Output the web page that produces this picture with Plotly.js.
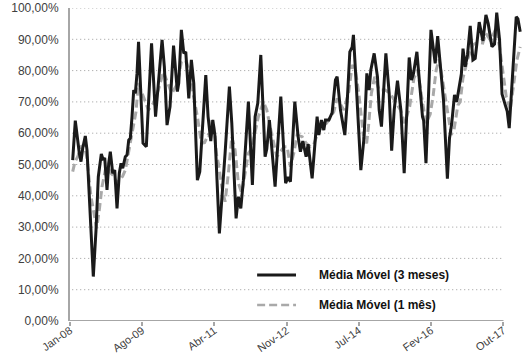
<!DOCTYPE html>
<html>
<head>
<meta charset="utf-8">
<script src="https://cdn.plot.ly/plotly-3.0.1.min.js"></script>
<style>
html,body{margin:0;padding:0;background:#fff;}
#chart{width:529px;height:353px;}
</style>
</head>
<body>
<div id="chart"></div>
<script>
// x = months elapsed since Jan-08 (fractional), y = percent
const blackMonth = [0.73,1.43,2.51,2.97,3.43,4.13,4.59,6.29,7.02,7.64,8.45,8.99,9.37,9.99,10.45,10.88,11.53,12.07,12.69,13.31,13.77,14.23,14.93,15.39,15.85,16.28,16.74,17.2,17.63,18.09,18.5,19.71,20.6,22.01,23.09,23.76,24.85,25.47,26.19,27.0,27.95,28.98,29.35,30.06,30.71,31.25,32.06,32.76,33.41,34.38,35.03,36.65,37.27,38.0,38.54,39.16,40.32,41.86,43.02,43.67,44.83,45.45,46.1,46.8,48.15,49.23,49.96,50.69,51.5,52.2,52.66,53.12,53.82,55.36,56.9,57.93,58.2,58.87,59.49,60.68,61.57,62.19,62.84,63.73,64.27,65.35,66.24,66.7,67.16,67.86,68.51,68.94,69.86,70.75,71.65,72.1,73.0,74.18,74.8,75.53,76.15,76.5,77.15,78.5,79.39,80.12,80.74,81.2,82.1,82.99,83.45,84.07,85.26,86.15,86.82,87.5,88.39,89.31,90.2,90.93,91.55,92.17,92.71,93.63,94.38,95.14,95.46,96.08,97.43,98.57,99.24,100.05,100.81,101.86,102.43,103.02,103.78,104.37,105.19,105.64,106.08,106.67,107.29,108.02,108.75,109.37,109.86,110.45,111.45,112.26,112.88,113.88,114.58,115.18,115.93,116.61,117.53,118.01,118.55,119.28,119.9,120.44,120.9,121.52];
const blackValue = [51.4,64.0,53.6,50.9,55.2,59.1,54.6,14.2,29,46.1,53.4,51.4,52.1,41.9,50.4,54.1,47.2,48.2,36,47.2,50.4,48.8,52.5,53,57.8,58.4,65.3,73.8,72.7,79.1,89.2,56.8,55.7,88.7,65.3,74.9,89.8,81.2,62.6,68.5,88,73.3,76,93.0,85.5,86,71.1,83.4,75.9,45,47.7,78.6,65.3,57.5,64.2,58.9,28.0,53.6,74.9,63.2,32.8,39.7,36.0,45,70.1,43.5,65.3,69.6,85.0,65.3,52.5,55,64.2,42.9,71.7,49.3,44.0,46,44.5,70.1,58.9,54.1,57.5,52.5,56.5,45.6,57.5,65.3,59.4,64.2,61,64.2,64.2,66.5,77.0,78.1,67.4,59.4,69.6,86.0,87.5,91.4,78,48.2,58.9,79.1,73.8,80.2,85.5,78,67.4,62.1,85.5,72.7,54.4,67.4,76.8,67.4,47.2,67.4,84.2,77.0,79,86.0,75.9,65.3,64,50.4,93.0,82.3,91.0,81,70.6,45.5,58.4,63,72.2,70,76.5,79,87,81.2,85,94.3,83.4,83.9,89,95.5,89.5,97.8,95,87.6,88.5,98.5,90,72.5,68.8,67,61.6,75.9,89.8,97.2,96.5,92.4];

const grayMonth = [0.73,1.35,2.08,2.97,3.86,4.51,5.67,6.56,7.21,7.91,8.64,9.53,10.18,11.07,11.96,12.61,13.31,14.18,14.93,15.58,16.47,17.2,17.82,18.44,19.79,21.15,22.5,23.85,25.2,26.11,26.92,27.46,28.81,29.44,30.06,30.6,31.41,32.14,33.22,34.38,35.46,36.32,37.27,37.81,38.27,38.7,39.62,40.05,40.97,41.86,42.75,43.67,44.56,45.45,46.37,47.26,48.15,49.01,49.96,50.85,52.2,53.12,54.01,54.9,55.82,56.71,57.79,58.6,59.49,60.41,61.3,62.65,63.73,64.89,65.81,67.16,68.51,69.86,71.21,72.1,73.0,73.91,75.26,76.15,77.05,78.05,79.26,80.07,80.56,81.34,82.23,83.45,85.07,86.42,87.5,89.2,90.34,91.68,92.82,93.84,94.84,96.08,97.21,98.02,98.83,99.64,100.94,101.94,102.89,103.64,104.7,105.32,106.05,107.4,108.75,110.1,111.4,112.21,113.42,114.23,115.04,115.93,116.8,117.74,118.82,119.71,120.63,121.52];
const grayValue = [47.7,50.9,52.5,55.7,56.2,52.5,39.7,33.3,29.6,35.5,42.9,48.2,49.3,47.2,46.1,44.0,45,46.2,48.2,52.5,57.8,62.1,66.9,76,71.7,67.4,69.6,73.8,79.6,77,74.3,72.7,75.4,78.6,82.9,83.4,82.9,80,72.7,65.3,56.8,57,59.4,58.9,64.2,63.2,52.5,50.4,42.9,38.1,47.2,58.9,54.6,44.0,40.8,47.2,53.6,55,60.5,65.3,70.1,67.4,62.1,56.8,52.5,54,55.7,55.7,49.3,53.6,59.4,58.9,56.8,55.7,56.5,61,62.1,64.2,66.9,71.1,69,67.4,73.3,81.8,80.2,71.7,58.4,56.8,62.1,72.7,78,73.8,73.8,72.7,70.6,67.4,63.2,68.5,77.5,80.2,72.2,63.2,66,72,80.2,83.6,74.2,67,59.5,61,69.0,70,77.5,83.9,88.3,89,88.8,91.9,89.8,91.5,93.7,87.6,80.5,71.7,67.4,75.9,83.4,87.6];

const tickMonths = [0,19.5,39,58.5,78,97.5,117];
const tickLabels = ['Jan-08','Ago-09','Abr-11','Nov-12','Jul-14','Fev-16','Out-17'];
const yTickValues = [0,10,20,30,40,50,60,70,80,90,100];
const yTickLabels = ['0,00%','10,00%','20,00%','30,00%','40,00%','50,00%','60,00%','70,00%','80,00%','90,00%','100,00%'];
const seriesNames = ['Média Móvel (3 meses)','Média Móvel (1 mês)'];

const FONT = '"Liberation Sans", Arial, sans-serif';
const lastMonth = tickMonths[tickMonths.length-1];

const traces = [
  {x: grayMonth, y: grayValue, type:'scatter', mode:'lines', name: seriesNames[1],
   line:{color:'#a9a9a9', width:3, dash:'8px,4px'}, hoverinfo:'skip'},
  {x: blackMonth, y: blackValue, type:'scatter', mode:'lines', name: seriesNames[0],
   line:{color:'#1a1a1a', width:3}, hoverinfo:'skip'}
];

const shapes = yTickValues.filter(v => v > 0).map(v => ({
  type:'line', xref:'x', yref:'y', x0:0.6, x1:lastMonth, y0:v, y1:v,
  line:{color:'#9a9a9a', width:1, dash:'1px,3px'}, layer:'below'
}));
shapes.push({type:'line', xref:'x', yref:'y', x0:0, x1:lastMonth, y0:0, y1:0,
  line:{color:'#a6a6a6', width:2}, layer:'above'});
// manual legend samples
shapes.push({type:'line', xref:'paper', yref:'paper', x0:0.414, x1:0.500, y0:0.147, y1:0.147,
  line:{color:'#1a1a1a', width:2.8}});
shapes.push({type:'line', xref:'paper', yref:'paper', x0:0.414, x1:0.500, y0:0.051, y1:0.051,
  line:{color:'#a9a9a9', width:2.5, dash:'8px,4px'}});

const annotations = [
  {xref:'paper', yref:'paper', x:0.546, y:0.147, xanchor:'left', yanchor:'middle', showarrow:false,
   text:'<b>'+seriesNames[0]+'</b>', font:{family:FONT, size:12, color:'#111'}},
  {xref:'paper', yref:'paper', x:0.546, y:0.051, xanchor:'left', yanchor:'middle', showarrow:false,
   text:'<b>'+seriesNames[1]+'</b>', font:{family:FONT, size:12, color:'#111'}}
];

const layout = {
  width:529, height:353,
  margin:{l:70, r:7, t:8, b:32},
  paper_bgcolor:'#fff', plot_bgcolor:'#fff',
  showlegend:false,
  font:{family:FONT, size:12, color:'#404040'},
  xaxis:{range:[0,122], showgrid:false, zeroline:false, showline:false,
    tickmode:'array', tickvals:tickMonths, ticktext:tickLabels, tickangle:-35,
    ticks:'outside', ticklen:4, tickwidth:2, tickcolor:'#a6a6a6',
    ticklabelstandoff:-6,
    tickfont:{family:FONT, size:11, color:'#404040'}},
  yaxis:{range:[0,100], showgrid:false, zeroline:false, showline:true, linecolor:'#a6a6a6', linewidth:2,
    tickmode:'array', tickvals:yTickValues, ticktext:yTickLabels,
    ticks:'', ticklabelstandoff:7,
    tickfont:{family:FONT, size:12, color:'#404040'}},
  shapes: shapes,
  annotations: annotations
};

Plotly.newPlot('chart', traces, layout, {displayModeBar:false, staticPlot:true});
</script>
</body>
</html>
